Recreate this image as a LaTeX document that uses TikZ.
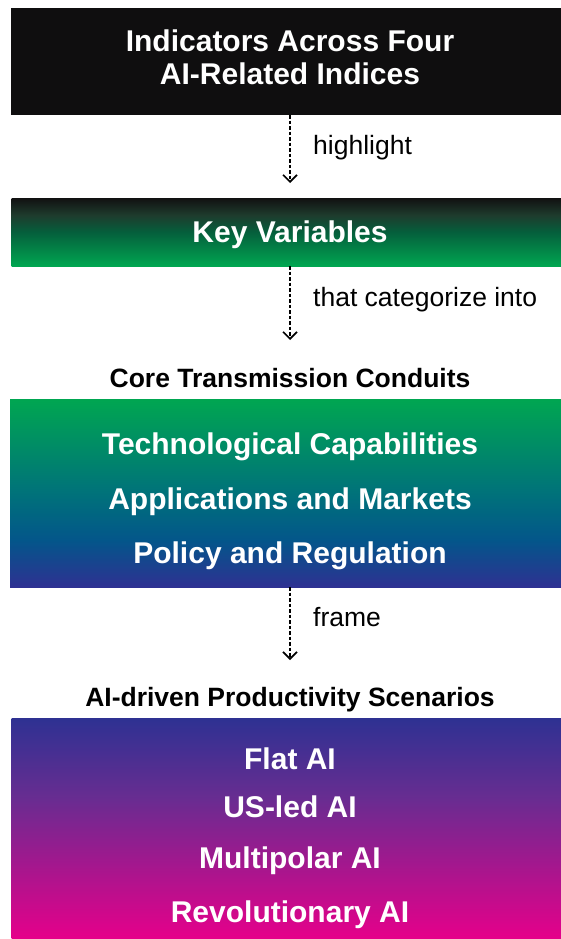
\documentclass[tikz,border=0pt]{standalone}
\usepackage{fontspec}
\setmainfont{Liberation Sans}
\usetikzlibrary{arrows.meta}
\definecolor{boxblack}{HTML}{0F0E0F}
\definecolor{kvtop}{HTML}{111111}
\definecolor{kvdark}{HTML}{1E3B2D}
\definecolor{kvmid}{HTML}{055F3C}
\definecolor{tcgreen}{HTML}{00A651}
\definecolor{tcteal}{HTML}{00727A}
\definecolor{tcblue}{HTML}{03568A}
\definecolor{tcindigo}{HTML}{2E3192}
\definecolor{scpurple}{HTML}{662D91}
\definecolor{scmagenta}{HTML}{E6008A}
\pgfdeclareverticalshading{keyshade}{100bp}{color(0bp)=(tcgreen); color(25bp)=(tcgreen); color(50bp)=(kvmid); color(62.5bp)=(kvdark); color(75bp)=(kvtop); color(100bp)=(kvtop)}
\pgfdeclareverticalshading{conduitshade}{100bp}{color(0bp)=(tcindigo); color(25bp)=(tcindigo); color(37.5bp)=(tcblue); color(50bp)=(tcteal); color(75bp)=(tcgreen); color(100bp)=(tcgreen)}
\pgfdeclareverticalshading{scenarioshade}{100bp}{color(0bp)=(scmagenta); color(25bp)=(scmagenta); color(57.5bp)=(scpurple); color(75bp)=(tcindigo); color(100bp)=(tcindigo)}
\begin{document}
\begin{tikzpicture}
[x=1pt,y=-1pt,
  boxdecorate/.style={shape=rectangle,inner sep=0pt,minimum width=550pt,draw=none},%
  headdecorate/.style={anchor=base,inner sep=0pt,text=white,font=\fontsize{30}{33}\selectfont\bfseries},%
  titledecorate/.style={anchor=base,inner sep=0pt,text=black,font=\fontsize{26.5}{30}\selectfont\bfseries},%
  labeldecorate/.style={anchor=base west,inner sep=0pt,text=black,font=\fontsize{26.5}{30}\selectfont},%
  linedecorate/.style={dash pattern=on 3.5pt off 2pt,line width=1.6pt,-{Straight Barb[length=7pt,width=14pt]}}]
\useasboundingbox (0,0) rectangle (561,939);
%% boxes
\node (indicators) at (286,61.5) [boxdecorate,minimum height=107pt,fill=boxblack] {};
\node (variables) at (286.5,232) [boxdecorate,minimum height=68pt,shading=keyshade] {};
\node (conduits) at (285.5,493) [boxdecorate,minimum width=551pt,minimum height=188pt,shading=conduitshade] {};
\node (scenarios) at (286.5,828.5) [boxdecorate,minimum height=221pt,shading=scenarioshade] {};
%% texts in boxes
\foreach \textname/\y/\words in {
  indone/52/Indicators Across Four, indtwo/85/AI-Related Indices,
  keyvar/242/Key Variables,
  tech/454/Technological Capabilities, apps/509/Applications and Markets,
  policy/563/Policy and Regulation,
  flat/769/Flat AI, usled/817/US-led AI, multi/868/Multipolar AI,
  revo/922/Revolutionary AI} {
  \node (\textname) at (290,\y) [headdecorate] {\words};
}
%% titles and labels
\node (conduittitle) at (290,387) [titledecorate] {Core Transmission Conduits};
\node (scenariotitle) at (290,706) [titledecorate] {AI-driven Productivity Scenarios};
\foreach \labelname/\y/\words in {
  highlight/154/highlight, categorize/306/that categorize into, frame/626/frame} {
  \node (\labelname) at (313,\y) [labeldecorate] {\words};
}
%% arrows
\coordinate (tipone) at (290,183);
\coordinate (tiptwo) at (290,340);
\coordinate (tipthree) at (290,660);
\path
\foreach \startnode/\endnode in {indicators/tipone, variables/tiptwo, conduits/tipthree} {
  (\startnode.south -| \endnode) edge[linedecorate] (\endnode)
};
\end{tikzpicture}
\end{document}
